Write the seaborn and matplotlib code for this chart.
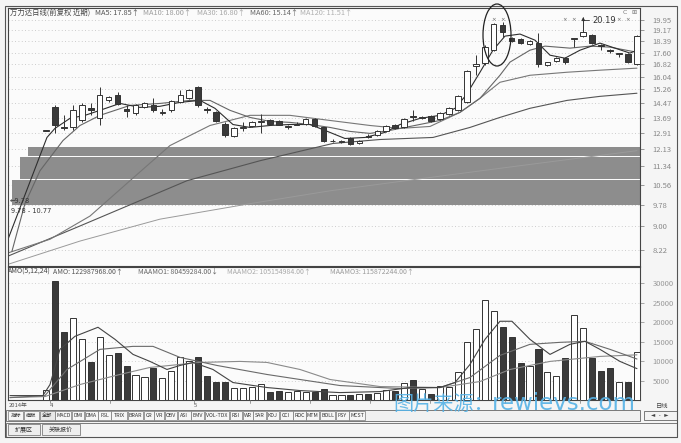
import numpy as np
import pandas as pd
import matplotlib
matplotlib.use("Agg")
import matplotlib.pyplot as plt
from matplotlib.patches import Ellipse, Rectangle
from matplotlib.lines import Line2D
from matplotlib.ticker import NullLocator
import seaborn as sns

sns.set_theme(style="white")
plt.rcParams["font.family"] = ["Noto Sans CJK SC", "DejaVu Sans"]

# ---------------- data ----------------
opens = [13.02, 14.24, 13.22, 13.18, 13.54, 14.19, 13.65, 14.64, 14.92, 14.13,
         13.92, 14.24, 14.36, 13.95, 14.08, 14.53, 14.75, 15.40, 14.15, 13.97,
         13.38, 12.73, 13.13, 13.23, 13.44, 13.54, 13.49, 13.18, 13.33, 13.38,
         13.60, 13.18, 12.50, 12.47, 12.63, 12.39, 12.75, 12.78, 12.98, 13.33,
         13.18, 13.78, 13.65, 13.76, 13.60, 13.86, 14.08, 14.53, 16.70, 16.89,
         17.76, 19.57, 18.60, 18.53, 18.18, 18.25, 16.76, 17.02, 17.22, 18.55,
         18.75, 18.82, 18.11, 17.80, 17.50, 17.48, 16.83]
highs = [13.05, 14.36, 13.81, 14.36, 14.47, 14.47, 15.40, 14.90, 15.10, 14.36,
         14.45, 14.55, 14.75, 14.13, 14.64, 15.21, 15.30, 15.45, 14.24, 14.05,
         13.44, 13.18, 13.44, 13.50, 13.86, 13.60, 13.54, 13.33, 13.44, 13.65,
         13.65, 13.20, 12.60, 12.55, 12.68, 12.58, 12.85, 13.03, 13.28, 13.38,
         13.65, 14.08, 13.78, 13.81, 13.97, 14.24, 14.92, 16.44, 17.42, 18.10,
         19.72, 19.80, 18.68, 18.60, 18.46, 18.97, 17.00, 17.30, 17.28, 18.63,
         20.19, 18.90, 18.20, 17.85, 17.60, 17.55, 18.82]
lows = [13.00, 12.88, 13.03, 13.03, 13.44, 13.81, 13.28, 14.55, 14.36, 13.70,
        13.85, 14.20, 14.00, 13.81, 14.00, 14.47, 14.70, 14.24, 13.92, 13.44,
        12.70, 12.68, 12.98, 13.20, 12.88, 13.33, 13.28, 13.08, 13.28, 13.33,
        13.18, 12.45, 12.45, 12.42, 12.30, 12.36, 12.65, 12.75, 12.95, 13.08,
        13.13, 13.49, 13.60, 13.44, 13.54, 13.81, 14.03, 14.47, 16.12, 16.80,
        17.70, 18.68, 18.30, 18.18, 18.10, 16.63, 16.70, 16.96, 16.83, 17.99,
        18.70, 18.20, 17.76, 17.55, 17.30, 16.90, 16.80]
closes = [13.03, 13.28, 13.15, 14.08, 14.36, 14.08, 14.92, 14.81, 14.42, 14.03,
          14.36, 14.47, 14.08, 14.00, 14.58, 14.92, 15.21, 14.36, 14.10, 13.49,
          12.78, 13.13, 13.20, 13.44, 13.50, 13.38, 13.33, 13.23, 13.38, 13.60,
          13.23, 12.49, 12.53, 12.50, 12.34, 12.53, 12.71, 12.98, 13.23, 13.13,
          13.60, 13.72, 13.72, 13.49, 13.92, 14.19, 14.86, 16.38, 16.82, 17.99,
          19.64, 19.04, 18.39, 18.25, 18.39, 16.83, 16.96, 17.22, 16.96, 18.60,
          19.04, 18.25, 18.05, 17.70, 17.55, 16.96, 18.75]
volumes = [2560, 30500, 17400, 21000, 15600, 9700, 16150, 11500, 12050, 8700,
           6400, 5900, 8200, 5650, 7450, 11000, 10000, 11000, 6150, 4600,
           4600, 3100, 3100, 3350, 4100, 2050, 2300, 2050, 2300, 2050,
           2050, 2800, 1300, 1300, 1300, 1550, 1550, 1800, 2550, 2300,
           4350, 5200, 2800, 1550, 3600, 3350, 7200, 14900, 18200, 25650,
           22800, 18700, 16150, 9500, 8700, 13100, 7200, 6150, 10750, 21800,
           18450, 10750, 7450, 8200, 4600, 4600, 12300]

# moving-average lines (x = bar index, y = price)
ma5_x = [-4.24, 0.11, 1.0, 2.68, 4.36, 6.03, 8.26, 10.5, 12.73, 14.97, 17.2, 18.87,
         20.88, 22.78, 25.02, 27.25, 29.48, 31.16, 33.39, 35.63, 37.86, 39.54,
         41.77, 44.0, 45.68, 46.9, 48.47, 49.92, 51.26, 52.94, 54.61, 56.29,
         57.96, 59.64, 61.87, 63.55, 65.22, 66.0]
ma5_y = [8.56, 12.68, 13.13, 13.65, 13.81, 14.08, 14.46, 14.24, 14.30, 14.52, 14.63,
         14.19, 13.33, 13.18, 13.28, 13.33, 13.33, 13.03, 12.63, 12.68, 12.93, 13.33,
         13.65, 13.81, 14.19, 14.92, 16.31, 17.76, 18.75, 18.90, 18.46, 17.42,
         17.22, 17.76, 18.25, 17.90, 17.56, 17.76]
ma10_x = [-3.8, -2.35, -0.67, 1.9, 3.8, 6.03, 9.38, 12.73, 16.08, 18.32, 20.55, 22.78,
          25.02, 27.25, 29.48, 31.72, 33.95, 36.18, 38.42, 40.65, 44.0, 46.24,
          48.47, 50.7, 51.82, 54.05, 55.73, 58.52, 60.76, 62.99, 66.0]
ma10_y = [8.17, 9.82, 11.15, 12.53, 13.28, 13.81, 14.35, 14.46, 14.63, 14.63, 14.08,
          13.70, 13.49, 13.44, 13.33, 13.18, 12.98, 12.88, 13.03, 13.23, 13.54,
          13.97, 14.75, 16.12, 16.96, 17.76, 18.04, 17.90, 18.04, 17.97, 17.62]
ma30_x = [-4.24, 0.45, 4.91, 9.38, 13.85, 18.32, 22.78, 27.25, 31.72, 36.18, 39.54,
          42.89, 46.24, 48.47, 50.7, 54.05, 58.19, 61.87, 66.0]
ma30_y = [8.12, 8.56, 9.36, 10.73, 12.29, 13.28, 13.81, 13.81, 13.54, 13.28, 13.13,
          13.23, 13.97, 14.75, 15.69, 16.12, 16.31, 16.44, 16.57]
ma60_x = [-4.24, 3.8, 15.75, 23.9, 32.05, 37.3, 43.22, 47.35, 50.7, 54.05, 58.19,
          61.87, 66.0]
ma60_y = [8.02, 9.01, 10.73, 11.59, 12.39, 12.58, 12.68, 13.18, 13.70, 14.19, 14.63,
          14.86, 15.04]
ma120_x = [-4.24, 3.8, 12.73, 22.78, 31.72, 41.77, 52.94, 66.0]
ma120_y = [7.77, 8.50, 9.25, 9.82, 10.32, 10.81, 11.37, 12.05]

# volume moving averages
am1_x = [-4.02, -0.34, 0.45, 1.56, 3.24, 5.81, 7.71, 9.72, 11.61, 13.51, 14.97, 16.42,
         18.65, 20.88, 24.68, 28.37, 32.83, 37.3, 40.65, 44.0, 45.68, 47.35, 49.03,
         50.7, 52.04, 54.05, 56.29, 58.52, 60.2, 61.87, 64.1, 66.0]
am1_y = [1130, 1130, 3970, 12990, 16340, 18660, 15560, 11700, 9900, 7830, 8860, 9640,
         7830, 4480, 3200, 2420, 1900, 2160, 3200, 3200, 4480, 9120, 15560, 20200,
         20200, 15560, 11700, 14280, 15050, 12990, 9900, 8050]
am2_x = [-4.02, -0.11, 2.35, 6.03, 9.72, 11.95, 14.97, 19.1, 24.68, 28.37, 32.83,
         39.54, 44.0, 47.35, 50.7, 54.05, 57.4, 60.2, 62.99, 66.0]
am2_y = [620, 1130, 7830, 12990, 13760, 13760, 10930, 8860, 6550, 5260, 3710, 2940,
         3200, 5770, 11440, 14280, 14790, 15050, 12990, 10515]
am3_x = [-4.02, -0.11, 3.8, 8.26, 11.61, 17.2, 21.67, 24.68, 28.37, 31.72, 37.3,
         44.0, 48.47, 51.82, 56.29, 61.87, 66.0]
am3_y = [620, 880, 3970, 6550, 8350, 9640, 9900, 9640, 7830, 5260, 3450, 3200, 4740,
         7830, 9900, 11180, 11587]

# horizontal price zones (grey blocks)
zone_low = [9.78, 10.79, 11.80]
zone_high = [10.74, 11.76, 12.20]
zone_start = [-3.8, -2.9, -2.0]

price_ticks = [19.95, 19.17, 18.39, 17.60, 16.82, 16.04, 15.26, 14.47, 13.69,
               12.91, 12.13, 11.34, 10.56, 9.78, 9.00, 8.22]
vol_ticks = [5000, 10000, 15000, 20000, 25000, 30000]

tabs = ['指标', '模板', '全部', 'MACD', 'DMI', 'DMA', 'FSL', 'TRIX', 'BRAR', 'CR', 'VR',
        'OBV', 'ASI', 'EMV', 'VOL-TDX', 'RSI', 'WR', 'SAR', 'KDJ', 'CCI', 'ROC',
        'MTM', 'BOLL', 'PSY', 'MCST']
watermark_cn = '图片来源：'
watermark_en = 'rewievs.com'

# ---------------- figure ----------------
W, H = 681, 443
fig = plt.figure(figsize=(W / 100, H / 100), dpi=100)
fig.patch.set_facecolor('#f5f5f5')


def fx(x):
    return x / W


def fy(y):
    return 1 - y / H


XMIN, XMAX = -4.24, 66.34
ax = fig.add_axes([fx(8), fy(266), fx(640) - fx(8), fy(8) - fy(266)])
axv = fig.add_axes([fx(8), fy(400), fx(640) - fx(8), fy(267) - fy(400)])
for a in (ax, axv):
    a.set_facecolor('#fbfbfb')
    for s in a.spines.values():
        s.set_color('#444')
        s.set_linewidth(0.8)

o = np.array(opens); h = np.array(highs); l = np.array(lows); c = np.array(closes)
v = np.array(volumes)
idx = np.arange(len(o))
up = c >= o
dark = '#3a3a3a'
edge = '#333333'

# ---- price panel ----
ax.set_yscale('log')
ax.set_ylim(7.72, 20.90)
ax.set_xlim(XMIN, XMAX)

ax.barh(zone_low, [XMAX - s for s in zone_start],
        height=[hi - lo for hi, lo in zip(zone_high, zone_low)],
        left=zone_start, align='edge', color='#8d8d8d', edgecolor='none', zorder=1.5)

ma_specs = [(ma120_x, ma120_y, '#9a9a9a', 0.7), (ma60_x, ma60_y, '#555555', 0.8),
            (ma30_x, ma30_y, '#777777', 0.8), (ma10_x, ma10_y, '#666666', 0.8),
            (ma5_x, ma5_y, '#2e2e2e', 0.8)]
for xs, ys, col, lw in ma_specs:
    sns.lineplot(x=xs, y=ys, ax=ax, color=col, lw=lw, sort=False,
                 estimator=None, zorder=2)

body_b = np.minimum(o, c)
body_h = np.maximum(np.abs(c - o), 0.015)
ax.vlines(idx, l, h, color=edge, lw=0.7, zorder=3)
ax.bar(idx[up], body_h[up], bottom=body_b[up], width=0.62, facecolor='white',
       edgecolor=edge, lw=0.7, zorder=4)
ax.bar(idx[~up], body_h[~up], bottom=body_b[~up], width=0.62, facecolor=dark,
       edgecolor=edge, lw=0.7, zorder=4)

ax.yaxis.tick_right()
ax.set_yticks(price_ticks)
ax.set_yticklabels([f'{t:.2f}' for t in price_ticks])
ax.yaxis.set_minor_locator(NullLocator())
ax.tick_params(axis='y', which='major', labelsize=5.5, colors='#888888',
               length=3, width=0.6, direction='out', pad=6, right=True)
ax.set_xticks([])
ax.grid(axis='y', ls=(0, (1, 3)), color='#bdbdbd', lw=0.6)
ax.set_xlabel('')
ax.set_ylabel('')

ax.annotate('20.19', xy=(60, 20.19), xytext=(61.0, 19.75), fontsize=6,
            color='#333333', family='DejaVu Sans',
            arrowprops=dict(arrowstyle='-|>', lw=0.6, color='#333333',
                            connectionstyle='angle,angleA=0,angleB=90,rad=0',
                            shrinkA=0, shrinkB=0, mutation_scale=5))
ax.text(-4.05, 9.92, '←9.78', fontsize=4.8, color='#333333', va='center',
        family='DejaVu Sans')
ax.text(-3.9, 9.55, '9.78 - 10.77', fontsize=4.8, color='#333333', va='center',
        family='DejaVu Sans')

for xm in [494, 503, 565, 574, 619, 628]:
    fig.text(fx(xm), fy(20), '×', fontsize=4, color='#666666', ha='center',
             va='center', family='DejaVu Sans')
fig.text(fx(625), fy(12), 'C', fontsize=4.5, color='#777777', ha='center', va='center',
         family='DejaVu Sans')
fig.text(fx(634), fy(12), '⊞', fontsize=4.5, color='#777777', ha='center', va='center',
         family='DejaVu Sans')

ell = Ellipse((fx(497), fy(35)), 28 / W, 62 / H, transform=fig.transFigure,
              fill=False, edgecolor='#222222', lw=0.9, zorder=10)
fig.add_artist(ell)

# ---- volume panel ----
axv.set_xlim(XMIN, XMAX)
axv.set_ylim(0, 34120)
axv.bar(idx[up], v[up], width=0.68, facecolor='white', edgecolor=edge, lw=0.7, zorder=3)
axv.bar(idx[~up], v[~up], width=0.68, facecolor=dark, edgecolor=edge, lw=0.7, zorder=3)
for xs, ys, col in [(am3_x, am3_y, '#8a8a8a'), (am2_x, am2_y, '#6a6a6a'),
                    (am1_x, am1_y, '#444444')]:
    sns.lineplot(x=xs, y=ys, ax=axv, color=col, lw=0.8, sort=False,
                 estimator=None, zorder=4)
axv.yaxis.tick_right()
axv.set_yticks(vol_ticks)
axv.set_yticklabels([str(t) for t in vol_ticks])
axv.tick_params(axis='y', labelsize=5.5, colors='#999999', length=3, width=0.6,
                direction='out', pad=6, right=True)
axv.set_xticks([])
axv.grid(axis='y', ls=(0, (1, 3)), color='#c4c4c4', lw=0.6)
axv.set_xlabel('')
axv.set_ylabel('')

# ---- headers ----
hdr = [(10, '万力达日线(前复权 近期)', '#444444'), (95, 'MA5: 17.85↑', '#555555'),
       (143, 'MA10: 18.00↑', '#9c9c9c'), (197, 'MA30: 16.80↑', '#a8a8a8'),
       (250, 'MA60: 15.14↑', '#666666'), (300, 'MA120: 11.51↑', '#b0b0b0')]
for x, t, col in hdr:
    fig.text(fx(x), fy(12.5), t, fontsize=5.3, color=col, va='center', ha='left')
vh = [(8, 'AMO(5,12,24)', '#444444'), (53, 'AMO: 122987968.00↑', '#555555'),
      (138, 'MAAMO1: 80459284.00↓', '#666666'),
      (227, 'MAAMO2: 105154984.00↑', '#a8a8a8'),
      (330, 'MAAMO3: 115872244.00↑', '#9a9a9a')]
for x, t, col in vh:
    fig.text(fx(x), fy(272), t, fontsize=5.0, color=col, va='center', ha='left')

# ---- bottom rows ----
def box(x0, y0, x1, y1, fc='none', ec='#666666', lw=0.6):
    fig.add_artist(Rectangle((fx(x0), fy(y1)), fx(x1) - fx(x0), fy(y0) - fy(y1),
                             transform=fig.transFigure, facecolor=fc,
                             edgecolor=ec, lw=lw))

fig.text(fx(9), fy(405.5), '2014年', fontsize=4.2, color='#555555', va='center')
fig.text(fx(50), fy(405.5), '4', fontsize=4.2, color='#555555', va='center')
fig.text(fx(194), fy(405.5), '5', fontsize=4.2, color='#555555', va='center')
for xt in [50, 110, 194, 250, 310, 370, 430, 505, 580]:
    fig.add_artist(Line2D([fx(xt), fx(xt)], [fy(400), fy(403)],
                          transform=fig.transFigure, color='#777777', lw=0.5))

box(6, 410, 640, 421, fc='#f1f1f1')
xcur = 8
for t in tabs:
    n = len(t)
    wdt = 4 + (5.6 if not t.isascii() else 2.9) * n
    box(xcur, 411, xcur + wdt, 420, fc='#e8e8e8' if t == '全部' else '#f6f6f6',
        ec='#777777', lw=0.5)
    fig.text(fx(xcur + wdt / 2), fy(415.5), t, fontsize=3.8, color='#333333',
             ha='center', va='center')
    xcur += wdt + 0.6
box(644, 411, 677, 420, fc='#f3f3f3')
fig.text(fx(660), fy(415.5), '◄  -  ►', fontsize=4, color='#444444', ha='center',
         va='center', family='DejaVu Sans')
fig.text(fx(656), fy(406), '日线', fontsize=4.5, color='#444444', va='center')
box(6, 423, 677, 437, fc='#f5f5f5')
box(8, 424, 40, 435, fc='#eeeeee', lw=0.5)
box(42, 424, 80, 435, fc='#eeeeee', lw=0.5)
fig.text(fx(24), fy(429.5), '扩展区', fontsize=4.3, color='#333333', ha='center', va='center')
fig.text(fx(61), fy(429.5), '关联报价', fontsize=4.3, color='#333333', ha='center', va='center')

box(5, 6, 677, 437, ec='#555555', lw=0.8)

# watermark
fig.text(fx(393), fy(404), watermark_cn, fontsize=14.5, color='#55b2e6',
         alpha=0.9, va='center', ha='left')
fig.text(fx(492), fy(403), watermark_en, fontsize=16.5, color='#55b2e6',
         alpha=0.9, va='center', ha='left', family='DejaVu Sans')

fig.savefig('out.png', dpi=100, facecolor=fig.get_facecolor())
